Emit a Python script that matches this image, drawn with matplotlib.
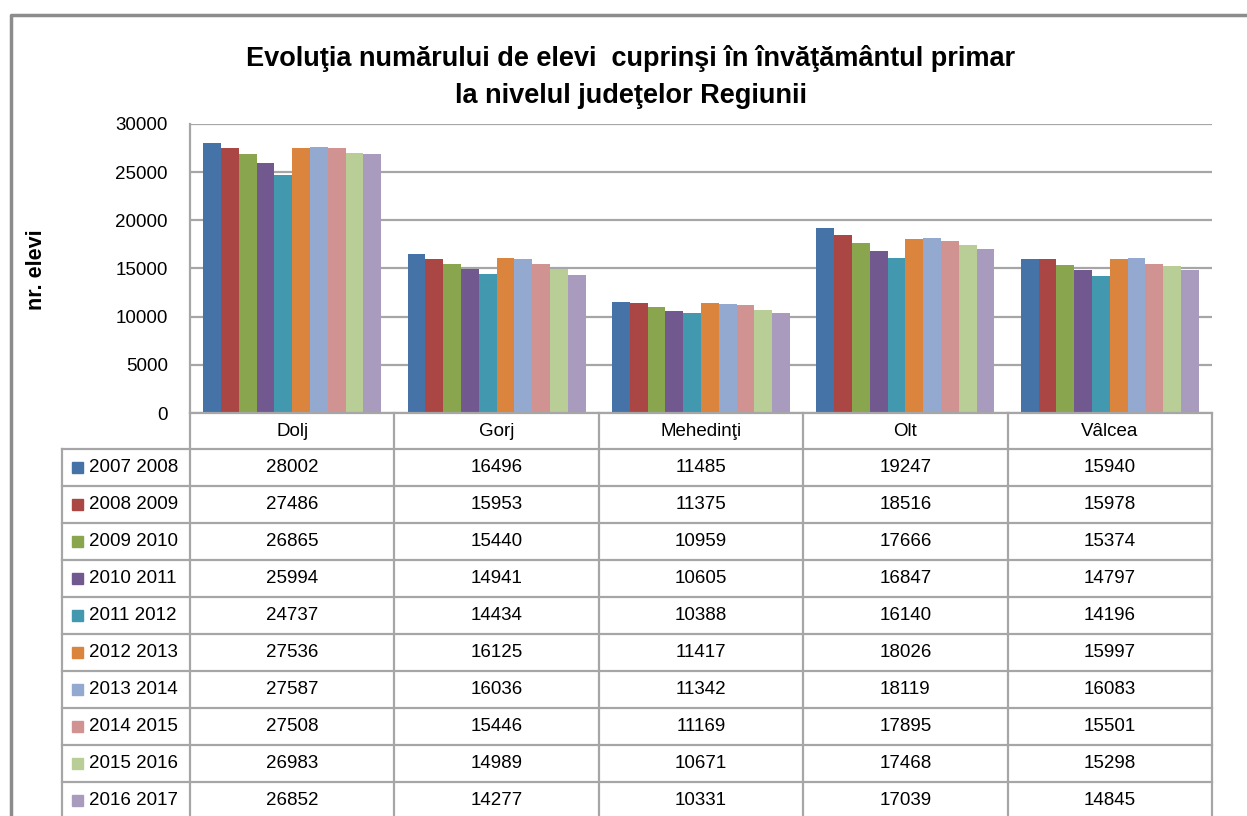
import matplotlib
matplotlib.use("Agg")
import matplotlib.pyplot as plt
import numpy as np
from matplotlib.transforms import blended_transform_factory
from matplotlib.lines import Line2D
from matplotlib.patches import Rectangle

plt.rcParams['font.family'] = ['Liberation Sans', 'DejaVu Sans']

title = "Evoluţia numărului de elevi  cuprinşi în învăţământul primar\nla nivelul judeţelor Regiunii"
ylabel = "nr. elevi"
counties = ["Dolj", "Gorj", "Mehedinţi", "Olt", "Vâlcea"]
years = ["2007 2008", "2008 2009", "2009 2010", "2010 2011", "2011 2012",
         "2012 2013", "2013 2014", "2014 2015", "2015 2016", "2016 2017"]
y_2007 = [28002, 16496, 11485, 19247, 15940]
y_2008 = [27486, 15953, 11375, 18516, 15978]
y_2009 = [26865, 15440, 10959, 17666, 15374]
y_2010 = [25994, 14941, 10605, 16847, 14797]
y_2011 = [24737, 14434, 10388, 16140, 14196]
y_2012 = [27536, 16125, 11417, 18026, 15997]
y_2013 = [27587, 16036, 11342, 18119, 16083]
y_2014 = [27508, 15446, 11169, 17895, 15501]
y_2015 = [26983, 14989, 10671, 17468, 15298]
y_2016 = [26852, 14277, 10331, 17039, 14845]
series = [y_2007, y_2008, y_2009, y_2010, y_2011,
          y_2012, y_2013, y_2014, y_2015, y_2016]
colors = ["#4572A7", "#AA4643", "#89A54E", "#71588F", "#4198AF",
          "#DB843D", "#93A9CF", "#D19392", "#B9CD96", "#A99BBD"]
yticks = [0, 5000, 10000, 15000, 20000, 25000, 30000]

W, H = 1247, 816
fig = plt.figure(figsize=(W / 100, H / 100), dpi=100)

def fy(py):
    return 1 - py / H

def fx(px):
    return px / W

ax_left, ax_right, ax_top, ax_bot = 190, 1212, 124, 413
ax = fig.add_axes([fx(ax_left), fy(ax_bot), fx(ax_right - ax_left), (ax_bot - ax_top) / H])

n = len(series)
group = 0.87
bw = group / n
x = np.arange(len(counties))
for i, (vals, c) in enumerate(zip(series, colors)):
    ax.bar(x - group / 2 + bw * (i + 0.5), vals, width=bw, color=c,
           edgecolor='none', zorder=3)

ax.set_xlim(-0.5, len(counties) - 0.5)
ax.set_ylim(0, 30000)
ax.set_yticks(yticks)
ax.set_yticklabels([str(t) for t in yticks], fontsize=13.5)
ax.tick_params(axis='y', length=0, pad=16)
ax.set_xticks([])
ax.grid(axis='y', color='#A6A6A6', linewidth=1.6, zorder=0)
for s in ['top', 'right', 'bottom']:
    ax.spines[s].set_visible(False)
ax.spines['left'].set_color('#A6A6A6')
ax.spines['left'].set_linewidth(1.6)

# title and y label
fig.text(0.5 + 0.006, fy(77), title, ha='center', va='center', fontsize=19.5,
         fontweight='bold', linespacing=1.55)
fig.text(fx(37), fy(270), ylabel, rotation=90, ha='center', va='center',
         fontsize=15.5, fontweight='bold')

# data table
gc = '#A6A6A6'
lw = 1.6
header_top, header_bot = 413, 449
row_h = 37
n_rows = len(years)
table_bot = header_bot + row_h * n_rows
tr = blended_transform_factory(ax.transData, fig.transFigure)
for k in range(len(counties) + 1):
    xv = k - 0.5
    fig.add_artist(Line2D([xv, xv], [fy(header_top), fy(table_bot)],
                          transform=tr, color=gc, lw=lw))
fig.add_artist(Line2D([fx(62), fx(62)], [fy(header_bot), fy(table_bot)],
                      transform=fig.transFigure, color=gc, lw=lw))
fig.add_artist(Line2D([fx(190), fx(1212)], [fy(header_top), fy(header_top)],
                      transform=fig.transFigure, color=gc, lw=lw))
for r in range(n_rows + 1):
    yy = fy(header_bot + r * row_h)
    fig.add_artist(Line2D([fx(62), fx(1212)], [yy, yy],
                          transform=fig.transFigure, color=gc, lw=lw))
for k, name in enumerate(counties):
    fig.text(k, fy((header_top + header_bot) / 2), name, transform=tr,
             ha='center', va='center', fontsize=13.5)
for r, (yr, vals, c) in enumerate(zip(years, series, colors)):
    cy = fy(header_bot + r * row_h + row_h / 2)
    sq = 11
    fig.add_artist(Rectangle((fx(72), cy - sq / 2 / H), sq / W, sq / H,
                             transform=fig.transFigure, color=c))
    fig.text(fx(89), cy, yr, ha='left', va='center', fontsize=13.5)
    for k, v in enumerate(vals):
        fig.text(k, cy, str(v), transform=tr, ha='center', va='center',
                 fontsize=13.5)

# outer chart border
fig.add_artist(Line2D([fx(11), fx(11), fx(1247)], [fy(816), fy(15), fy(15)],
                      transform=fig.transFigure, color='#8C8C8C', lw=2.5))

fig.savefig("out.png", dpi=100)
